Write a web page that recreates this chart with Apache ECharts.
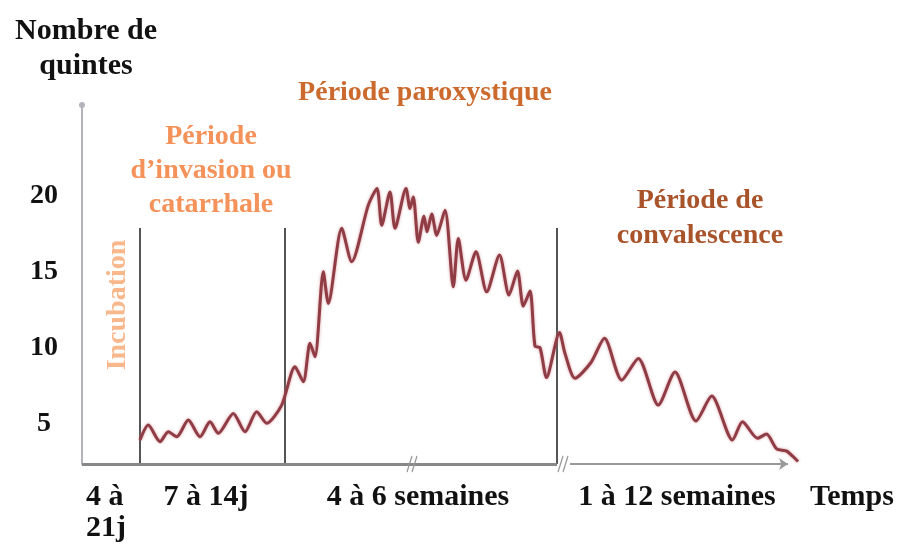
<!DOCTYPE html>
<html>
<head>
<meta charset="utf-8">
<script src="https://cdn.jsdelivr.net/npm/echarts@6/dist/echarts.min.js"></script>
<style>html,body{margin:0;padding:0;background:#fff;}#c{width:900px;height:544px;}</style>
</head>
<body>
<div id="c"></div>
<script>
// Schematic time (arbitrary units along the drawn time axis)
const timeX = [5.8,6.63,7.8,8.63,9.47,10.63,11.8,12.8,13.63,15.13,16.3,17.47,18.47,19.97,
  21.3,22.13,22.8,23.3,24.13,24.63,25.97,26.97,28.63,29.5,29.97,30.8,31.3,32.4,32.8,33.13,
  33.63,34.2,34.5,34.97,35.47,36.3,37.13,37.63,38.4,39.4,40.47,41.75,42.7,43.55,44.13,44.8,
  45.3,45.8,46.45,47.75,48.3,49.3,50.9,52.25,53.97,55.63,57.63,59.3,61.4,62.97,65.05,66.05,
  67.55,68.45,69.47,70.47,71.6];
// Nombre de quintes
const quintes = [3.95,4.93,3.84,4.49,4.16,5.26,4.16,5.15,4.39,5.70,4.49,5.81,5.05,6.25,
  8.77,7.78,10.31,9.43,15.02,12.94,17.88,15.68,19.41,20.51,18.09,20.28,17.88,20.51,19.19,19.95,
  16.97,18.68,17.65,18.82,17.43,19.08,14.03,17.22,14.47,16.34,13.70,16.12,13.49,15.07,12.76,13.75,
  10.13,10.03,8.06,11.02,9.65,8.01,9.05,10.64,7.89,9.32,6.25,8.42,5.20,6.84,3.95,5.15,
  4.06,4.34,3.36,3.22,2.53];
const yTicks = [5, 10, 15, 20];
const phaseBounds = [5.8, 20.3, 47.5];     // vertical separators
const phaseTop = 17.9;
const axisBase = 2.37;
const axisEnds = [0, 47.5, 48.8, 70.6];    // solid segment, then arrow segment
const axisBreaks = [33.0, 48.1];
const periodLabels = ['4 à\n21j', '7 à 14j', '4 à 6 semaines', '1 à 12 semaines'];

const curve = timeX.map((x, i) => [x, quintes[i]]);
const serif = '"Liberation Serif","DejaVu Serif",serif';

const chart = echarts.init(document.getElementById('c'));
chart.setOption({
  backgroundColor: '#fff',
  animation: false,
  grid: { left: 82, right: 98, top: 105, bottom: 80 },
  xAxis: { type: 'value', min: 0, max: 72, show: false },
  yAxis: {
    type: 'value', min: axisBase, max: 26,
    splitLine: { show: false },
    axisTick: { show: false },
    axisLine: { show: true, lineStyle: { color: '#b4b2bc', width: 2 }, symbol: ['none', 'circle'], symbolSize: [6, 6] },
    axisLabel: { customValues: yTicks, margin: 38, align: 'center', color: '#111',
      fontFamily: serif, fontWeight: 'bold', fontSize: 28 }
  },
  series: [
    {
      type: 'line', data: [], silent: true,
      markLine: {
        silent: true, symbol: 'none', animation: false,
        label: { show: false },
        data: [
          ...phaseBounds.map(b => [
            { coord: [b, axisBase], lineStyle: { color: '#555', width: 2, type: 'solid' } },
            { coord: [b, phaseTop] }
          ]),
          [{ coord: [axisEnds[0], axisBase], lineStyle: { color: '#888', width: 3, type: 'solid' } },
           { coord: [axisEnds[1], axisBase] }],
          [{ coord: [axisEnds[2], axisBase], lineStyle: { color: '#9a9a9a', width: 2, type: 'solid' }, symbol: 'none' },
           { coord: [axisEnds[3], axisBase], symbol: 'arrow', symbolSize: 9 }]
        ]
      },
      markPoint: {
        silent: true, animation: false,
        symbol: 'path://M0,20 L6,0 M6,20 L12,0',
        symbolSize: [10, 16],
        itemStyle: { color: 'none', borderColor: '#999', borderWidth: 1.5 },
        label: { show: false },
        data: axisBreaks.map(b => ({ coord: [b, axisBase] }))
      }
    },
    {
      type: 'line', data: curve, smooth: 0.25, symbol: 'none', z: 5,
      lineStyle: { color: '#8f3c44', width: 3, shadowColor: 'rgba(200,110,120,0.7)', shadowBlur: 3 }
    }
  ],
  graphic: [
    { type: 'text', x: 86, y: 49, style: { text: 'Nombre de\nquintes', font: 'bold 30px ' + serif, fill: '#111', textAlign: 'center', textVerticalAlign: 'middle', lineHeight: 35 } },
    { type: 'text', x: 425, y: 93, style: { text: 'Période paroxystique', font: 'bold 28px ' + serif, fill: '#cc6a2e', textAlign: 'center', textVerticalAlign: 'middle' } },
    { type: 'text', x: 211, y: 171, style: { text: 'Période\nd’invasion ou\ncatarrhale', font: 'bold 28px ' + serif, fill: '#f4925a', textAlign: 'center', textVerticalAlign: 'middle', lineHeight: 34 } },
    { type: 'text', x: 118, y: 305, rotation: Math.PI / 2, style: { text: 'Incubation', font: 'bold 28px ' + serif, fill: '#f8b88c', textAlign: 'center', textVerticalAlign: 'middle' } },
    { type: 'text', x: 700, y: 218, style: { text: 'Période de\nconvalescence', font: 'bold 28px ' + serif, fill: '#a8532a', textAlign: 'center', textVerticalAlign: 'middle', lineHeight: 35 } },
    { type: 'text', x: 86, y: 513, style: { text: periodLabels[0], font: 'bold 30px ' + serif, fill: '#111', textAlign: 'left', textVerticalAlign: 'middle', lineHeight: 31 } },
    { type: 'text', x: 206, y: 497, style: { text: periodLabels[1], font: 'bold 30px ' + serif, fill: '#111', textAlign: 'center', textVerticalAlign: 'middle' } },
    { type: 'text', x: 418, y: 497, style: { text: periodLabels[2], font: 'bold 30px ' + serif, fill: '#111', textAlign: 'center', textVerticalAlign: 'middle' } },
    { type: 'text', x: 677, y: 497, style: { text: periodLabels[3], font: 'bold 30px ' + serif, fill: '#111', textAlign: 'center', textVerticalAlign: 'middle' } },
    { type: 'text', x: 852, y: 497, style: { text: 'Temps', font: 'bold 30px ' + serif, fill: '#111', textAlign: 'center', textVerticalAlign: 'middle' } }
  ]
});
</script>
</body>
</html>
